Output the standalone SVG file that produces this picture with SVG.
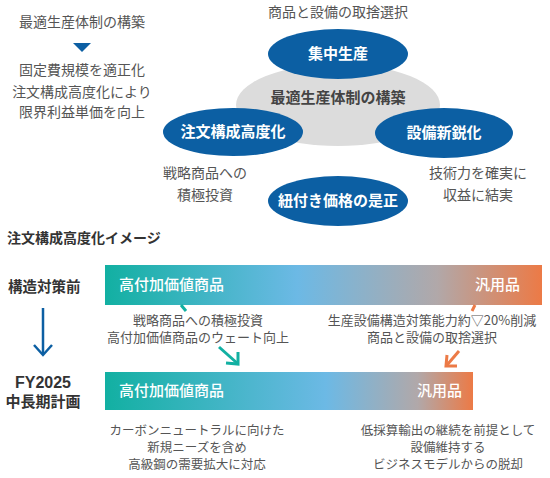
<svg xmlns="http://www.w3.org/2000/svg" width="550" height="478" viewBox="0 0 550 478">
<style>
text{font-family:"Noto Sans CJK JP","Noto Sans",sans-serif;fill:#555}
.t14{font-size:14px}
.t13{font-size:13px}
.t12{font-size:12.5px}
.b{font-weight:bold}
.c{text-anchor:middle}
.w{fill:#fff}
.blue{fill:#0C5FA3}
.hd{font-size:14px;font-weight:bold;fill:#333}
</style>
<defs>
<linearGradient id="g1" x1="0" y1="0" x2="1" y2="0">
<stop offset="0" stop-color="#12B0A2"/>
<stop offset="0.44" stop-color="#6CB9E5"/>
<stop offset="0.76" stop-color="#B1A8A9"/>
<stop offset="1" stop-color="#EC7A46"/>
</linearGradient>
<linearGradient id="g2" x1="0" y1="0" x2="1" y2="0">
<stop offset="0" stop-color="#12B0A2"/>
<stop offset="0.6" stop-color="#6CB9E5"/>
<stop offset="0.85" stop-color="#B1A8A9"/>
<stop offset="1" stop-color="#EC7A46"/>
</linearGradient>
</defs>

<g id="left-notes">
<text class="t14 c" x="82" y="27">最適生産体制の構築</text>
<polygon points="73,43 91,43 82,52" fill="#0C5FA3"/>
<text class="t14 c" x="82" y="75">固定費規模を適正化</text>
<text class="t14 c" x="82" y="97">注文構成高度化により</text>
<text class="t14 c" x="82" y="117">限界利益単価を向上</text>
</g>

<g id="top-note"><text class="t14 c" x="338" y="17">商品と設備の取捨選択</text></g>

<g id="core">
<ellipse cx="338" cy="105" rx="102" ry="41" fill="#DCDCDC"/>
<text class="c b" x="338" y="103" style="font-size:15px;fill:#444">最適生産体制の構築</text>
</g>
<g id="node-shuchu">
<ellipse cx="338" cy="54" rx="70" ry="25" class="blue"/>
<text class="c b w" x="338" y="59" style="font-size:15px">集中生産</text>
</g>
<g id="node-chumon">
<ellipse cx="233" cy="132" rx="70" ry="24" class="blue"/>
<text class="c b w" x="233" y="137" style="font-size:15px">注文構成高度化</text>
</g>
<g id="node-setsubi">
<ellipse cx="444" cy="133" rx="69" ry="25" class="blue"/>
<text class="c b w" x="444" y="138" style="font-size:15px">設備新鋭化</text>
</g>
<g id="node-himotsuki">
<ellipse cx="338" cy="201" rx="70" ry="25" class="blue"/>
<text class="c b w" x="338" y="206" style="font-size:15px">紐付き価格の是正</text>
</g>
<g id="notes-mid">
<text class="t14 c" x="205" y="178">戦略商品への</text>
<text class="t14 c" x="205" y="200">積極投資</text>
<text class="t14 c" x="478" y="178">技術力を確実に</text>
<text class="t14 c" x="478" y="200">収益に結実</text>
</g>

<g id="section-title"><text class="hd" x="7" y="243">注文構成高度化イメージ</text></g>

<g id="label-before"><text class="hd" x="8" y="292" style="font-size:14.5px">構造対策前</text></g>
<g id="label-fy">
<text class="hd c" x="43" y="388" style="font-size:16px;font-family:'Liberation Sans',Arial,sans-serif">FY2025</text>
<text class="hd c" x="43" y="407" style="font-size:15px">中長期計画</text>
</g>

<g id="bar-before">
<rect x="105" y="265" width="437" height="40" fill="url(#g1)"/>
<text class="w" x="119" y="290" style="font-size:15px;font-weight:500">高付加価値商品</text>
<text class="w" x="520" y="290" text-anchor="end" style="font-size:15px;font-weight:500">汎用品</text>
</g>
<g id="bar-after">
<rect x="105" y="372" width="368" height="38" fill="url(#g2)"/>
<text class="w" x="119" y="396" style="font-size:15px;font-weight:500">高付加価値商品</text>
<text class="w" x="462" y="396" text-anchor="end" style="font-size:15px;font-weight:500">汎用品</text>
</g>

<g id="connectors" fill="none" stroke-width="3">
<line x1="181" y1="305" x2="186" y2="311" stroke="#12B0A2"/>
<line x1="219" y1="347" x2="237" y2="363" stroke="#12B0A2"/>
<polyline points="226,363 238,364 238,352" stroke="#12B0A2"/>
<line x1="475" y1="305" x2="472" y2="311" stroke="#EC7A46"/>
<line x1="459" y1="351" x2="447" y2="365" stroke="#EC7A46"/>
<polyline points="447,355 446,366 457,366" stroke="#EC7A46"/>
<line x1="43" y1="308" x2="43" y2="354" stroke="#0C5FA3" stroke-width="2.5"/>
<polyline points="34,345 43,355 52,345" stroke="#0C5FA3" stroke-width="2.5"/>
</g>

<g id="notes-bottom">
<text class="t13 c" x="198" y="325">戦略商品への積極投資</text>
<text class="t13 c" x="198" y="342">高付加価値商品のウェート向上</text>
<text class="t13 c" x="432" y="325">生産設備構造対策能力約▽20%削減</text>
<text class="t13 c" x="432" y="342">商品と設備の取捨選択</text>
<text class="t12 c" x="197" y="435">カーボンニュートラルに向けた</text>
<text class="t12 c" x="197" y="452">新規ニーズを含め</text>
<text class="t12 c" x="197" y="469">高級鋼の需要拡大に対応</text>
<text class="t12 c" x="448" y="435">低採算輸出の継続を前提として</text>
<text class="t12 c" x="448" y="452">設備維持する</text>
<text class="t12 c" x="448" y="469">ビジネスモデルからの脱却</text>
</g>
</svg>
